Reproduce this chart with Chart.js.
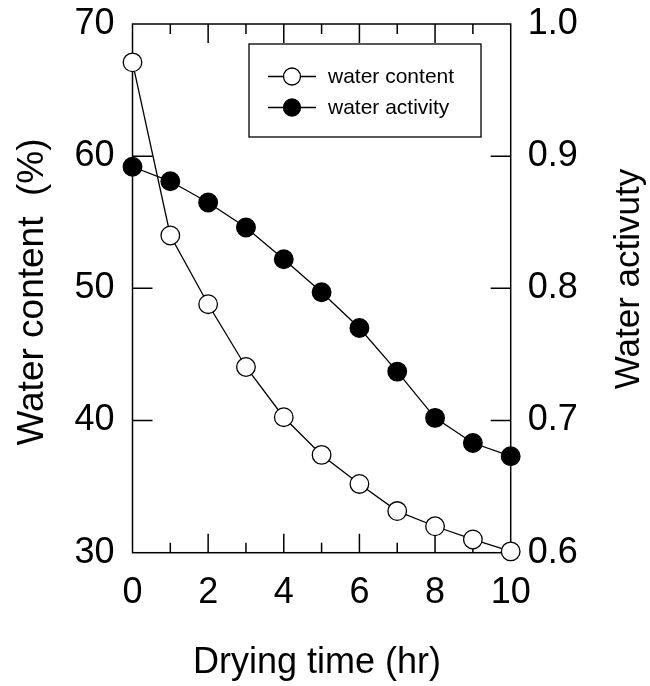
<!DOCTYPE html>
<html>
<head>
<meta charset="utf-8">
<script src="https://cdn.jsdelivr.net/npm/chart.js@4.4.1/dist/chart.umd.min.js"></script>
<style>
  body { margin: 0; background: #fff; }
  #wrap { width: 650px; height: 686px; }
</style>
</head>
<body>
<div id="wrap"><canvas id="dryChart" width="650" height="686"></canvas></div>
<script>
const dryingTime = [0, 1, 2, 3, 4, 5, 6, 7, 8, 9, 10];
const waterContent = [67.1, 54.0, 48.8, 44.05, 40.25, 37.4, 35.2, 33.15, 32.0, 31.0, 30.1];
const waterActivity = [0.892, 0.881, 0.865, 0.846, 0.822, 0.797, 0.770, 0.737, 0.702, 0.683, 0.673];

const xTicks = [0, 2, 4, 6, 8, 10];
const leftTicks = [30, 40, 50, 60, 70];
const rightTicks = [0.6, 0.7, 0.8, 0.9, 1.0];

const seriesNames = ["water content", "water activity"];
const xTitle = "Drying time (hr)";
const leftTitle = "Water content  (%)";
const rightTitle = "Water activuty";

const FONT = "'Liberation Sans', Arial, Helvetica, sans-serif";

const toPoints = (ys) => dryingTime.map((x, i) => ({ x: x, y: ys[i] }));

// fixed box sizes so the plot area sits where the original does
const fixBox = (size, key) => (scale) => {
    scale[key] = size;
    scale.paddingTop = 0;
    scale.paddingBottom = 0;
    scale.paddingLeft = 0;
    scale.paddingRight = 0;
};

const framePlugin = {
    id: "frame",
    beforeDatasetsDraw(chart) {
        const { ctx, chartArea: a, scales } = chart;
        ctx.save();
        ctx.strokeStyle = "#000";
        ctx.lineWidth = 1.5;
        ctx.strokeRect(a.left, a.top, a.right - a.left, a.bottom - a.top);

        ctx.beginPath();
        // inward ticks on bottom and top
        for (let v = 1; v < 10; v++) {
            const px = scales.x.getPixelForValue(v);
            const len = v % 2 === 0 ? 19 : 10;
            ctx.moveTo(px, a.bottom);
            ctx.lineTo(px, a.bottom - len);
            ctx.moveTo(px, a.top);
            ctx.lineTo(px, a.top + len);
        }
        leftTicks.slice(1, -1).forEach(v => {
            const py = scales.y.getPixelForValue(v);
            ctx.moveTo(a.left, py);
            ctx.lineTo(a.left + 20, py);
        });
        rightTicks.slice(1, -1).forEach(v => {
            const py = scales.y2.getPixelForValue(v);
            ctx.moveTo(a.right, py);
            ctx.lineTo(a.right - 20, py);
        });
        ctx.stroke();
        ctx.restore();
    },
    afterDraw(chart) {
        const { ctx } = chart;
        ctx.save();
        ctx.fillStyle = "#000";
        ctx.font = "36px " + FONT;
        ctx.textAlign = "center";
        ctx.textBaseline = "alphabetic";
        ctx.fillText(xTitle, 317, 673);

        ctx.save();
        ctx.font = "37px " + FONT;
        ctx.translate(43, 292);
        ctx.rotate(-Math.PI / 2);
        ctx.fillText(leftTitle, 0, 0);
        ctx.restore();

        ctx.save();
        ctx.font = "35px " + FONT;
        ctx.translate(639, 279);
        ctx.rotate(-Math.PI / 2);
        ctx.fillText(rightTitle, 0, 0);
        ctx.restore();

        // legend box
        const bx = 249, by = 44, bw = 232, bh = 93;
        ctx.fillStyle = "#fff";
        ctx.fillRect(bx, by, bw, bh);
        ctx.strokeStyle = "#000";
        ctx.lineWidth = 1.3;
        ctx.strokeRect(bx, by, bw, bh);

        const rows = [76.5, 107.5];
        chart.data.datasets.forEach((ds, i) => {
            const y = rows[i];
            ctx.beginPath();
            ctx.moveTo(268, y);
            ctx.lineTo(316, y);
            ctx.strokeStyle = "#000";
            ctx.lineWidth = 1.3;
            ctx.stroke();
            ctx.beginPath();
            ctx.arc(292, y, 8.5, 0, Math.PI * 2);
            ctx.fillStyle = ds.pointBackgroundColor;
            ctx.fill();
            ctx.stroke();
            ctx.fillStyle = "#000";
            ctx.font = "21px " + FONT;
            ctx.textAlign = "left";
            ctx.textBaseline = "middle";
            ctx.fillText(ds.label, 328, y + 1);
        });
        ctx.restore();
    }
};

const ctx = document.getElementById("dryChart").getContext("2d");

new Chart(ctx, {
    type: "scatter",
    data: {
        datasets: [{
            label: seriesNames[0],
            data: toPoints(waterContent),
            yAxisID: "y",
            showLine: true,
            borderColor: "#000",
            borderWidth: 1.3,
            pointRadius: 9.3,
            pointBorderWidth: 1.3,
            pointBackgroundColor: "#fff",
            pointBorderColor: "#000",
            clip: false
        }, {
            label: seriesNames[1],
            data: toPoints(waterActivity),
            yAxisID: "y2",
            showLine: true,
            borderColor: "#000",
            borderWidth: 1.3,
            pointRadius: 9.3,
            pointBorderWidth: 1.3,
            pointBackgroundColor: "#000",
            pointBorderColor: "#000",
            clip: false
        }]
    },
    options: {
        responsive: false,
        animation: false,
        layout: { padding: { top: 24, left: 0, right: 0, bottom: 0 } },
        plugins: {
            legend: { display: false },
            tooltip: { enabled: false }
        },
        scales: {
            x: {
                type: "linear",
                position: "bottom",
                min: 0,
                max: 10,
                afterBuildTicks: (s) => { s.ticks = xTicks.map(v => ({ value: v })); },
                afterFit: fixBox(133.3, "height"),
                grid: { display: false, drawTicks: false },
                border: { display: false },
                ticks: { color: "#000", padding: 19, maxRotation: 0, font: { size: 36, family: FONT } }
            },
            y: {
                type: "linear",
                position: "left",
                min: 30,
                max: 70,
                afterBuildTicks: (s) => { s.ticks = leftTicks.map(v => ({ value: v })); },
                afterFit: fixBox(132.5, "width"),
                grid: { display: false, drawTicks: false },
                border: { display: false },
                ticks: { color: "#000", padding: 18, font: { size: 36, family: FONT } }
            },
            y2: {
                type: "linear",
                position: "right",
                min: 0.6,
                max: 1.0,
                afterBuildTicks: (s) => { s.ticks = rightTicks.map(v => ({ value: v })); },
                afterFit: fixBox(139.3, "width"),
                grid: { display: false, drawTicks: false },
                border: { display: false },
                ticks: {
                    color: "#000",
                    padding: 17,
                    font: { size: 36, family: FONT },
                    callback: (v) => Number(v).toFixed(1)
                }
            }
        }
    },
    plugins: [framePlugin]
});
</script>
</body>
</html>
